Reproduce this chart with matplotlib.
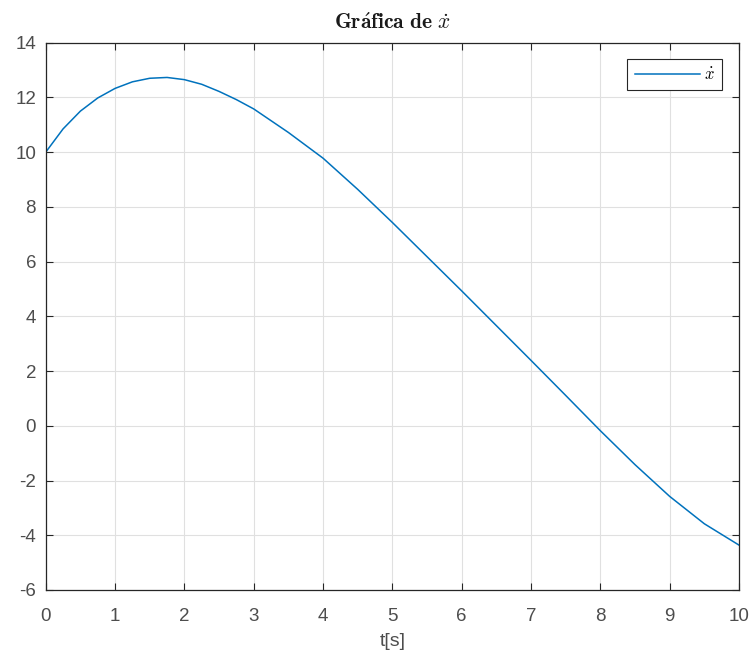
import numpy as np
import matplotlib.pyplot as plt

# valores
t = [0, 0.25, 0.5, 0.75, 1, 1.25, 1.5, 1.75, 2, 2.25, 2.5, 2.75, 3, 3.5, 4,
     4.5, 5, 5.5, 6, 6.5, 7, 7.5, 8, 8.5, 9, 9.5, 10]
xdot = [10.0, 10.85, 11.5, 11.98, 12.33, 12.57, 12.70, 12.73, 12.65, 12.48,
        12.22, 11.92, 11.58, 10.72, 9.78, 8.64, 7.43, 6.18, 4.93, 3.66, 2.39,
        1.11, -0.18, -1.42, -2.58, -3.58, -4.36]
xticks = list(range(0, 11))
yticks = list(range(-6, 15, 2))

plt.rcParams['font.family'] = ['Liberation Sans', 'DejaVu Sans']
plt.rcParams['mathtext.fontset'] = 'cm'
plt.rcParams['axes.unicode_minus'] = False

fig = plt.figure(figsize=(7.56, 6.62), dpi=100)
ax = fig.add_axes([0.0605, 0.1088, 0.917, 0.8267])

ax.plot(t, xdot, color='#0072BD', lw=1.1, label=r'$\dot{x}$')

ax.set_xlim(0, 10)
ax.set_ylim(-6, 14)
ax.set_xticks(xticks)
ax.set_yticks(yticks)
ax.grid(True, color='#e0e0e0', lw=0.8)
ax.set_axisbelow(True)
ax.tick_params(direction='in', top=True, right=True, length=5, width=0.8,
               colors='#262626', labelsize=13.5, labelcolor='#4d4d4d')
ax.tick_params(axis='x', pad=13)
ax.tick_params(axis='y', pad=7)
for s in ax.spines.values():
    s.set_color('#262626')
    s.set_linewidth(0.9)

ax.set_xlabel('t[s]', fontsize=14, color='#4d4d4d', labelpad=6)
ax.set_title(r'$\mathbf{Gr\acute{a}fica\ de}\ \dot{x}$', fontsize=15.5, pad=10,
             color='#1a1a1a')

leg = ax.legend(loc='upper right', bbox_to_anchor=(0.9755, 0.970), fontsize=12,
                fancybox=False, framealpha=1, edgecolor='#262626',
                handlelength=3.9, borderpad=0.45, handletextpad=0.25,
                borderaxespad=0)
leg.get_frame().set_linewidth(0.8)

fig.savefig('out.png', dpi=100)
